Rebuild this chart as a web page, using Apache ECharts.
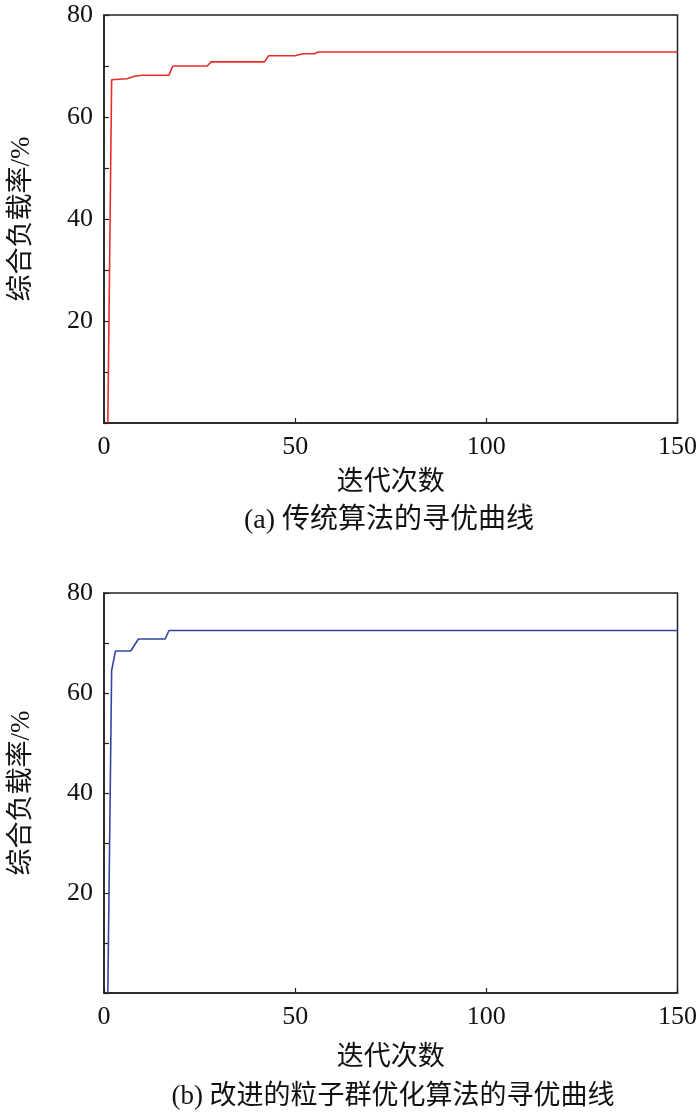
<!DOCTYPE html>
<html>
<head>
<meta charset="utf-8">
<script src="https://cdn.jsdelivr.net/npm/echarts@6/dist/echarts.min.js"></script>
<style>
html,body{margin:0;padding:0;background:#fff;}
#c{width:700px;height:1116px;}
</style>
</head>
<body>
<div id="c"></div>
<script>
// ---- data ----
var itersA = [1, 2, 6, 8, 10, 17, 18, 27, 28, 42, 43, 50, 52, 55, 56, 150];
var valsA  = [0, 67.3, 67.5, 68.0, 68.2, 68.2, 70.0, 70.0, 70.8, 70.8, 72.0, 72.0, 72.4, 72.4, 72.75, 72.75];
var itersB = [1, 2, 3, 7, 9, 16, 17, 150];
var valsB  = [0, 64.5, 68.4, 68.4, 70.8, 70.8, 72.5, 72.5];
var xTicks = [0, 50, 100, 150];
var yTickLabels = [20, 40, 60, 80];
var yName = '综合负载率/%';
var xName = '迭代次数';
var captionA = '(a) 传统算法的寻优曲线';
var captionB = '(b) 改进的粒子群优化算法的寻优曲线';

function pairs(xs, ys){ return xs.map(function(x,i){ return [x, ys[i]]; }); }

var FONT = '"Liberation Serif", "Noto Sans CJK SC", serif';
var AX = '#231f20';
var FS = 26;
var FN = 27;

function xAxisCfg(idx, gap){
  return {
    gridIndex: idx, type: 'value', min: 0, max: 150, interval: 50,
    name: xName, nameLocation: 'middle', nameGap: gap,
    nameTextStyle: {fontFamily: FONT, fontSize: FN, color: '#111'},
    axisLine: {show: true, lineStyle: {color: AX, width: 1.5}},
    axisTick: {show: true, inside: true, length: 5, lineStyle: {color: AX, width: 1.2}},
    axisLabel: {fontFamily: FONT, fontSize: FS, color: '#111', margin: 11,
      formatter: function(v){ return xTicks.indexOf(v) >= 0 ? String(v) : ''; }},
    splitLine: {show: false}
  };
}
function yAxisCfg(idx){
  return {
    gridIndex: idx, type: 'value', min: 0, max: 80, interval: 10,
    name: yName, nameLocation: 'middle', nameGap: 69,
    nameTextStyle: {fontFamily: FONT, fontSize: FN, color: '#111'},
    axisLine: {show: true, lineStyle: {color: AX, width: 1.5}},
    axisTick: {show: true, inside: true, length: 5, lineStyle: {color: AX, width: 1.2}},
    axisLabel: {fontFamily: FONT, fontSize: FS, color: '#111', margin: 11,
      formatter: function(v){ return yTickLabels.indexOf(v) >= 0 ? String(v) : ''; }},
    splitLine: {show: false}
  };
}

var chart = echarts.init(document.getElementById('c'), null, {renderer: 'canvas'});
chart.setOption({
  animation: false,
  backgroundColor: '#fff',
  grid: [
    {left: 103, right: 20, top: 15, height: 408, show: true, borderColor: AX, borderWidth: 1.5, backgroundColor: 'transparent'},
    {left: 103, right: 20, top: 593, height: 400, show: true, borderColor: AX, borderWidth: 1.5, backgroundColor: 'transparent'}
  ],
  xAxis: [xAxisCfg(0, 46), xAxisCfg(1, 51)],
  yAxis: [yAxisCfg(0), yAxisCfg(1)],
  series: [
    {type: 'line', xAxisIndex: 0, yAxisIndex: 0, data: pairs(itersA, valsA), showSymbol: false,
      lineStyle: {color: '#ec2b2b', width: 1.6}, itemStyle: {color: '#ec2b2b'}},
    {type: 'line', xAxisIndex: 1, yAxisIndex: 1, data: pairs(itersB, valsB), showSymbol: false,
      lineStyle: {color: '#34469c', width: 1.6}, itemStyle: {color: '#34469c'}}
  ],
  graphic: [
    {type: 'text', x: 389, y: 521, style: {text: captionA, font: '28px ' + FONT, fill: '#111', textAlign: 'center', textVerticalAlign: 'middle'}},
    {type: 'text', x: 393, y: 1097, style: {text: captionB, font: '27px ' + FONT, fill: '#111', textAlign: 'center', textVerticalAlign: 'middle'}}
  ]
});
</script>
</body>
</html>
